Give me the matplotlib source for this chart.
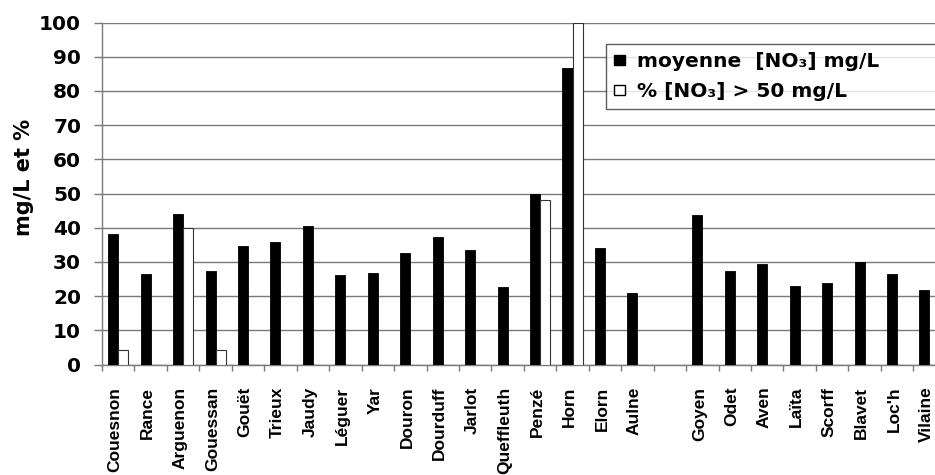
import matplotlib
matplotlib.use("Agg")
import matplotlib.pyplot as plt
from matplotlib.patches import Patch
import matplotlib.transforms as mtransforms
import numpy as np

# rivers (empty slot between Aulne and Goyen)
rivers = ['Couesnon', 'Rance', 'Arguenon', 'Gouessan', 'Gouët', 'Trieux', 'Jaudy',
          'Léguer', 'Yar', 'Douron', 'Dourduff', 'Jarlot', 'Queffleuth', 'Penzé',
          'Horn', 'Elorn', 'Aulne', '', 'Goyen', 'Odet', 'Aven', 'Laïta', 'Scorff',
          'Blavet', "Loc'h", 'Vilaine']
moyenne = [38.3, 26.6, 43.9, 27.2, 34.7, 35.8, 40.6, 26.1, 26.9, 32.6, 37.4, 33.5,
           22.7, 49.9, 86.7, 34.2, 20.9, np.nan, 43.6, 27.2, 29.3, 23.0, 23.8, 30.0,
           26.6, 21.7]
pct_sup50 = [4.2, 0, 40, 4.2, 0, 0, 0, 0, 0, 0, 0, 0,
             0, 48.0, 100, 0, 0, np.nan, 0, 0, 0, 0, 0, 0,
             0, 0]

grid_col = '#7a7a7a'
bold_font = 'DejaVu Sans'
tick_font = ['Liberation Sans', 'DejaVu Sans']

fig = plt.figure(figsize=(9.35, 4.75), dpi=100)
ax = fig.add_axes([102 / 935, 1 - 364.5 / 475, 843.7 / 935, 342 / 475])

x = np.arange(len(rivers))
w = 0.31
ax.bar(x - w / 2, moyenne, width=w, color='black', edgecolor='black',
       linewidth=0.6, zorder=3)
ax.bar(x + w / 2, pct_sup50, width=w, color='white', edgecolor='#333333',
       linewidth=0.8, zorder=3)

ax.set_xlim(-0.5, len(rivers) - 0.5)
ax.set_ylim(0, 100)
ax.set_yticks(np.arange(0, 101, 10))
ax.yaxis.grid(True, color=grid_col, linewidth=1.0, zorder=0)
ax.set_axisbelow(True)

for s in ['top', 'right']:
    ax.spines[s].set_visible(False)
for s in ['left', 'bottom']:
    ax.spines[s].set_color(grid_col)
    ax.spines[s].set_linewidth(1.0)

ax.tick_params(axis='y', direction='out', length=6, width=1, color=grid_col, pad=9)
for lab in ax.get_yticklabels():
    lab.set_fontfamily(bold_font)
    lab.set_fontweight('bold')
    lab.set_fontsize(14.5)

# labels at centres, tick marks at category boundaries
ax.set_xticks(x)
ax.set_xticklabels(rivers, rotation=90, family=tick_font, fontsize=12.5,
                   fontweight='bold')
ax.set_xticks(np.arange(-0.5, len(rivers) - 0.5, 1), minor=True)
ax.tick_params(axis='x', which='major', length=0, pad=16)
ax.tick_params(axis='x', which='minor', direction='out', length=4.5, width=1,
               color=grid_col)
shift = mtransforms.ScaledTranslation(-3 / 100, 0, fig.dpi_scale_trans)
for lab in ax.get_xticklabels():
    lab.set_transform(lab.get_transform() + shift)

ax.set_ylabel('mg/L et %', family=bold_font, fontweight='bold', fontsize=15)
ax.yaxis.set_label_coords(-0.081, 0.547)

handles = [Patch(facecolor='black', edgecolor='black'),
           Patch(facecolor='white', edgecolor='black')]
labels = ['moyenne  [NO₃] mg/L', '% [NO₃] > 50 mg/L']
leg = fig.legend(handles, labels, loc='upper left',
                 bbox_to_anchor=(606 / 935, 0, 0.45, 1 - 44 / 475), mode='expand',
                 prop={'family': bold_font, 'weight': 'bold', 'size': 14.5},
                 frameon=True, fancybox=False, handlelength=0.55, handleheight=0.4,
                 handletextpad=0.6, borderpad=0.4, labelspacing=0.55,
                 borderaxespad=0)
leg.get_frame().set_edgecolor('#333333')
leg.get_frame().set_linewidth(1.0)

fig.savefig('out.png', dpi=100)
